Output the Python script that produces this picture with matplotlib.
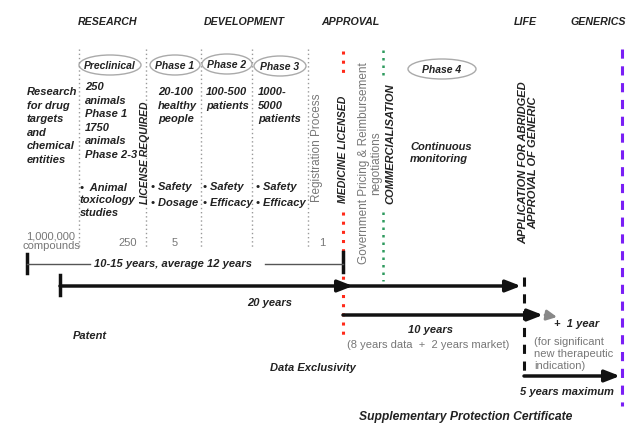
"""Drug development timeline diagram (research -> generics), pixel-based layout."""
import matplotlib
matplotlib.use("Agg")
import matplotlib.pyplot as plt
from matplotlib.patches import Ellipse

plt.rcParams['font.family'] = ['Liberation Sans', 'DejaVu Sans']

# --- content ---
stages = ['RESEARCH', 'DEVELOPMENT', 'APPROVAL', 'LIFE', 'GENERICS']
phases = ['Preclinical', 'Phase 1', 'Phase 2', 'Phase 3', 'Phase 4']
preclinical = '250\nanimals\nPhase 1\n1750\nanimals\nPhase 2-3'
subjects = ['20-100\nhealthy\npeople', '100-500\npatients', '1000-\n5000\npatients']
goals = ['\u2022 Safety\n\u2022 Dosage', '\u2022 Safety\n\u2022 Efficacy',
         '\u2022 Safety\n\u2022 Efficacy']
counts = ['1,000,000\ncompounds', '250', '5', '1']
periods = ['10-15 years, average 12 years', '20 years', '10 years', '5 years maximum']

# --- layout (pixels) ---
W, H = 635, 439
stage_x = [108, 244, 350, 525, 598]
phase_xy = [(110, 66, 62), (175, 66, 50), (227, 65, 50), (280, 67, 52), (442, 70, 68)]
subject_cols = [158, 206, 258]
goal_cols = [151, 203, 256]
count_xy = [(51, 241), (128, 243), (175, 243), (322, 243)]
sep_x = [79, 146, 201, 252, 308]

fig = plt.figure(figsize=(W / 100, H / 100), dpi=100)
ax = fig.add_axes([0, 0, 1, 1])
ax.set_xlim(0, W)
ax.set_ylim(H, 0)
ax.axis('off')

bi = dict(fontweight='bold', fontstyle='italic', color='#222222')
gray = dict(color='#777777')
fs = 8

for name, x in zip(stages, stage_x):
    ax.text(x, 22, name, ha='center', va='center', fontsize=7.7, **bi)

for x in sep_x:
    ax.plot([x, x], [50, 250], ls=(0, (1, 2)), color='#999999', lw=1)

for name, (x, y, w) in zip(phases, phase_xy):
    ax.add_patch(Ellipse((x, y), w, 20, fill=False, ec='#aaaaaa', lw=1))
    ax.text(x, y, name, ha='center', va='center', fontsize=7.5, **bi)

ax.text(27, 87, 'Research\nfor drug\ntargets\nand\nchemical\nentities', ha='left', va='top',
        fontsize=fs, linespacing=1.45, **bi)
ax.text(85, 82, preclinical, ha='left', va='top', fontsize=fs, linespacing=1.45, **bi)
for txt, x in zip(subjects, subject_cols):
    ax.text(x, 87, txt, ha='left', va='top', fontsize=fs, linespacing=1.45, **bi)
ax.text(80, 183, '\u2022  Animal\ntoxicology\nstudies', ha='left', va='top', fontsize=fs,
        linespacing=1.3, **bi)
for txt, x in zip(goals, goal_cols):
    ax.text(x, 182, txt, ha='left', va='top', fontsize=fs, linespacing=1.8, **bi)
for txt, (x, y) in zip(counts, count_xy):
    ax.text(x, y, txt, ha='center', va='center', fontsize=8, linespacing=0.95, **gray)

# vertical labels
ax.text(145, 153, 'LICENSE REQUIRED', rotation=90, ha='center', va='center', fontsize=7.5, **bi)
ax.text(317, 148, 'Registration Process', rotation=90, ha='center', va='center',
        fontsize=8.5, **gray)
ax.text(343, 149, 'MEDICINE LICENSED', rotation=90, ha='center', va='center', fontsize=7.6, **bi)
ax.text(370, 163, 'Government Pricing & Reimbursement\nnegotiations', rotation=90,
        ha='center', va='center', fontsize=8.5, linespacing=1.0, **gray)
ax.text(390, 144, 'COMMERCIALISATION', rotation=90, ha='center', va='center', fontsize=8, **bi)
ax.text(528, 163, 'APPLICATION FOR ABRIDGED\nAPPROVAL OF GENERIC', rotation=90,
        ha='center', va='center', fontsize=8, linespacing=1.0, **bi)
ax.text(410, 153, 'Continuous\nmonitoring', ha='left', va='center', fontsize=fs,
        linespacing=1.3, **bi)

# milestone lines
ax.plot([343, 343], [52, 77], ls=(0, (1, 2)), color='#ff2a1a', lw=2.2)
ax.plot([343, 343], [213, 338], ls=(0, (1, 2)), color='#ff2a1a', lw=2.2)
ax.plot([383, 383], [51, 76], ls=(0, (1, 2)), color='#2e9a5e', lw=1.8)
ax.plot([383, 383], [213, 282], ls=(0, (1, 2)), color='#2e9a5e', lw=1.8)
ax.plot([622, 622], [50, 407], ls=(0, (3, 2.5)), color='#7a1ff5', lw=2.2)
ax.plot([524, 524], [278, 372], ls=(0, (3, 2.5)), color='#111111', lw=2.2)

# 10-15 years span
ax.plot([27, 27], [255, 274], color='#111111', lw=2.5)
ax.plot([343, 343], [253, 273], color='#111111', lw=2.5)
ax.plot([27, 90], [265, 265], color='#555555', lw=1)
ax.plot([265, 343], [265, 265], color='#555555', lw=1)
ax.text(173, 264, periods[0], ha='center', va='center', fontsize=8, **bi)

arrow = dict(arrowstyle='-|>,head_length=0.9,head_width=0.35', color='#111111', lw=2.5,
             shrinkA=0, shrinkB=0)
# 20 years patent
ax.plot([60, 60], [276, 296], color='#111111', lw=2.5)
ax.annotate('', xy=(353, 287), xytext=(60, 287), arrowprops=arrow)
ax.annotate('', xy=(521, 287), xytext=(343, 287), arrowprops=arrow)
ax.text(270, 303, periods[1], ha='center', va='center', fontsize=fs, **bi)
ax.text(90, 336, 'Patent', ha='center', va='center', fontsize=fs, **bi)

# 10 years data exclusivity
ax.annotate('', xy=(543, 316), xytext=(343, 316), arrowprops=arrow)
ax.annotate('', xy=(557, 318), xytext=(545, 316),
            arrowprops=dict(arrowstyle='-|>,head_length=0.6,head_width=0.3', color='#888888',
                            lw=2, shrinkA=0, shrinkB=0))
ax.text(554, 324, '+  1 year', ha='left', va='center', fontsize=fs, **bi)
ax.text(430, 330, periods[2], ha='center', va='center', fontsize=fs, **bi)
ax.text(428, 345, '(8 years data  +  2 years market)', ha='center', va='center',
        fontsize=8, **gray)
ax.text(534, 354, '(for significant\nnew therapeutic\nindication)', ha='left', va='center',
        fontsize=8, linespacing=1.2, **gray)
ax.text(313, 368, 'Data Exclusivity', ha='center', va='center', fontsize=fs, **bi)

# 5 years SPC
ax.annotate('', xy=(620, 377), xytext=(524, 377), arrowprops=arrow)
ax.text(567, 392, periods[3], ha='center', va='center', fontsize=fs, **bi)
ax.text(466, 417, 'Supplementary Protection Certificate', ha='center', va='center',
        fontsize=8.7, **bi)

fig.savefig('out.png', dpi=100, facecolor='white')
